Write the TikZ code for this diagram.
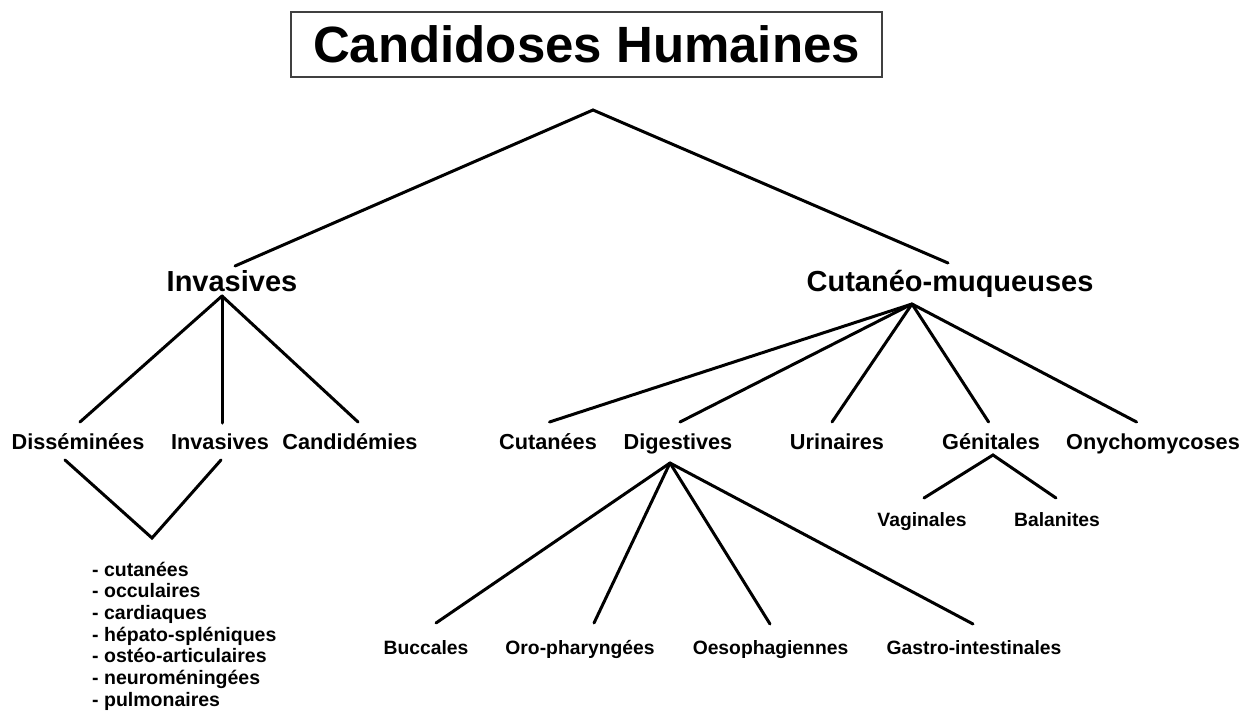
\documentclass[tikz,border=0pt]{standalone}
\usepackage{fontspec}
\setmainfont{Liberation Sans}
\begin{document}
\begin{tikzpicture}[x=1pt,y=-1pt,
  lab/.style={inner sep=0pt, anchor=base, font=\bfseries\fontsize{21.7}{24}\selectfont},
  big/.style={lab, font=\bfseries\fontsize{29}{32}\selectfont},
  small/.style={lab, font=\bfseries\fontsize{19.3}{22}\selectfont},
  item/.style={inner sep=0pt, anchor=base west, font=\bfseries\fontsize{19.5}{22}\selectfont},
  titlebox/.style={draw=black!75, line width=1.3pt, minimum width=591pt, minimum height=65pt, inner sep=0pt, font=\bfseries\fontsize{51}{56}\selectfont},
  link/.style={line width=3pt, line cap=round}]
\useasboundingbox[fill=white] (0,0) rectangle (1250,715);

% title
\node[titlebox] (title) at (586.5,44.5) {Candidoses Humaines};

% level 1
\node[big] (inv) at (232,291) {Invasives};
\node[big] (cm) at (950,291) {Cutanéo-muqueuses};

% level 2 (left)
\node[lab] (dis) at (78,449) {Disséminées};
\node[lab] (inv2) at (220,449) {Invasives};
\node[lab] (cand) at (350,449) {Candidémies};

% level 2 (right)
\node[lab] (cut) at (548,449) {Cutanées};
\node[lab] (dig) at (678,449) {Digestives};
\node[lab] (uri) at (837,449) {Urinaires};
\node[lab] (gen) at (991,449) {Génitales};
\node[lab] (ony) at (1153,449) {Onychomycoses};

% level 3
\node[small] (vag) at (922,526) {Vaginales};
\node[small] (bal) at (1057,526) {Balanites};
\node[small] (bucc) at (426,654) {Buccales};
\node[small] (oro) at (580,654) {Oro-pharyngées};
\node[small] (oeso) at (770.5,654) {Oesophagiennes};
\node[small] (gast) at (974,654) {Gastro-intestinales};

% list
\foreach \t [count=\i] in {cutanées, occulaires, cardiaques, hépato-spléniques, ostéo-articulaires, neuroméningées, pulmonaires}
  \node[item] (li\i) at (92,{576+21.7*(\i-1)}) {- \t};

% connector end points
\coordinate (root) at (593,110);
\coordinate (inv-t) at (235,266);
\coordinate (cm-t) at (948,263);
\coordinate (inv-b) at (222,296);
\coordinate (cm-b) at (912,304);
\coordinate (dis-t) at (80,422);
\coordinate (inv2-t) at (222,423);
\coordinate (cand-t) at (358,422);
\coordinate (dis-b) at (65,460);
\coordinate (inv2-b) at (221,460);
\coordinate (vee) at (152,538);
\coordinate (cut-t) at (549.5,422);
\coordinate (dig-t) at (680,422);
\coordinate (uri-t) at (832,422);
\coordinate (gen-t) at (988.6,422);
\coordinate (ony-t) at (1136.6,422);
\coordinate (gen-b) at (993,455);
\coordinate (vag-t) at (924,498);
\coordinate (bal-t) at (1056,498);
\coordinate (dig-b) at (670,463);
\coordinate (bucc-t) at (436,623);
\coordinate (oro-t) at (594,623);
\coordinate (oeso-t) at (770,624);
\coordinate (gast-t) at (973,624);

% connectors
\draw[link] (inv-t) -- (root) -- (cm-t);
\draw[link] (inv-b) -- (dis-t);
\draw[link] (inv-b) -- (inv2-t);
\draw[link] (inv-b) -- (cand-t);
\draw[link] (dis-b) -- (vee) -- (inv2-b);
\foreach \c in {cut-t, dig-t, uri-t, gen-t, ony-t}
  \draw[link] (cm-b) -- (\c);
\draw[link] (vag-t) -- (gen-b) -- (bal-t);
\foreach \c in {bucc-t, oro-t, oeso-t, gast-t}
  \draw[link] (dig-b) -- (\c);
\end{tikzpicture}
\end{document}
